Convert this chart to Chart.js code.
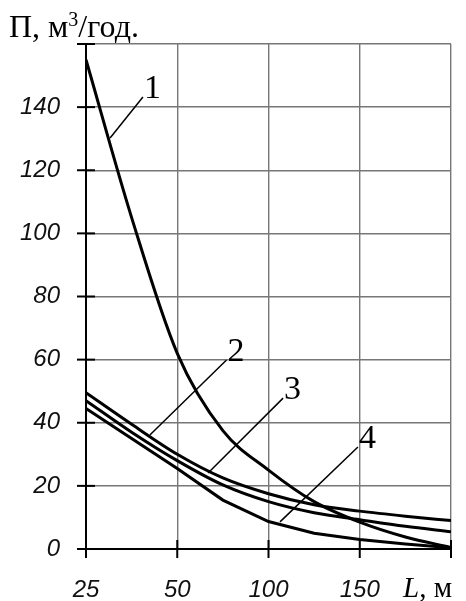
<!DOCTYPE html>
<html>
<head>
<meta charset="utf-8">
<script src="https://cdn.jsdelivr.net/npm/chart.js@4.4.1/dist/chart.umd.min.js"></script>
<style>
  html, body { margin: 0; padding: 0; background: #fff; }
</style>
</head>
<body>
<canvas id="myChart" width="466" height="601"></canvas>
<script>
// длины L, м (точки кривых)
const lengths = [25, 37.5, 50, 75, 100, 125, 150, 175, 200]
// П, м3/год
const curve1 = [155, 105, 62, 37.5, 25, 15, 8.5, 3.8, 0.5]
const curve2 = [49.5, 39.5, 30, 22.5, 17.5, 14, 12, 10.4, 9]
const curve3 = [47, 37, 28, 20.3, 15, 11.5, 9.3, 7.2, 5.5]
const curve4 = [44.5, 35, 25.5, 15.5, 8.7, 5, 3, 1.6, 0.4]

// шкала по оси L неравномерная
const axisL = [25, 50, 100, 150, 200]
const xTickLabels = ['25', '50', '100', '150', '']
const yMax = 160
const yStep = 20

// выноски: номер кривой, точка на кривой и конец выноски (L, П)
const calloutNames = ['1', '2', '3', '4']
const calloutFrom = [[31.6, 130.2], [42.5, 36.1], [66.9, 24.1], [106.3, 8.6]]
const calloutTo = [[40.6, 143.2], [77, 59.9], [108, 47.8], [149, 32.3]]

const toPos = ( L ) => {
  for ( let i = 0; i < axisL.length - 1; i++ ) {
    if ( L <= axisL[i + 1] ) {
      return i + ( L - axisL[i] ) / ( axisL[i + 1] - axisL[i] )
    }
  }
  return axisL.length - 1
}

const makeData = ( values ) => values.map( ( v, i ) => ( { x: toPos( lengths[i] ), y: v } ) )

const lineStyle = {
  borderColor: '#000',
  borderWidth: 3,
  pointRadius: 0,
  fill: false
}

// засечки через оси, выноски и подписи
const decor = {
  id: 'decor',
  afterDraw ( chart ) {
    const { ctx, chartArea } = chart
    const x = chart.scales.x
    const y = chart.scales.y
    ctx.save()
    ctx.strokeStyle = '#000'
    ctx.lineWidth = 2
    y.ticks.forEach( ( t, i ) => {
      const py = y.getPixelForTick( i )
      ctx.beginPath()
      ctx.moveTo( chartArea.left - 9, py )
      ctx.lineTo( chartArea.left + 9, py )
      ctx.stroke()
    } )
    x.ticks.forEach( ( t, i ) => {
      const px = x.getPixelForTick( i )
      ctx.beginPath()
      ctx.moveTo( px, chartArea.bottom - 9 )
      ctx.lineTo( px, chartArea.bottom + 9 )
      ctx.stroke()
    } )

    ctx.lineWidth = 1.5
    ctx.fillStyle = '#000'
    ctx.font = '34px "Liberation Serif"'
    ctx.textAlign = 'left'
    ctx.textBaseline = 'alphabetic'
    calloutNames.forEach( ( name, i ) => {
      const x1 = x.getPixelForValue( toPos( calloutFrom[i][0] ) )
      const y1 = y.getPixelForValue( calloutFrom[i][1] )
      const x2 = x.getPixelForValue( toPos( calloutTo[i][0] ) )
      const y2 = y.getPixelForValue( calloutTo[i][1] )
      ctx.beginPath()
      ctx.moveTo( x1, y1 )
      ctx.lineTo( x2, y2 )
      ctx.stroke()
      ctx.fillText( name, x2 + 1, y2 + 1 )
    } )

    // подпись оси Y
    ctx.font = '32px "Liberation Serif"'
    let tx = 9
    ctx.fillText( 'П, м', tx, 37 )
    tx += ctx.measureText( 'П, м' ).width
    ctx.font = '20px "Liberation Serif"'
    ctx.fillText( '3', tx, 26 )
    tx += ctx.measureText( '3' ).width
    ctx.font = '32px "Liberation Serif"'
    ctx.fillText( '/год.', tx, 37 )

    // подпись оси X
    ctx.font = 'italic 29px "Liberation Serif"'
    let lx = 403
    ctx.fillText( 'L', lx, 597 )
    lx += ctx.measureText( 'L' ).width
    ctx.font = '29px "Liberation Serif"'
    ctx.fillText( ', м', lx, 597 )
    ctx.restore()
  }
}

const tickFont = { family: '"Liberation Sans", Arial', size: 24, style: 'italic' }

const config = {
  type: 'line',
  data: {
    datasets: [
      { label: '1', data: makeData( curve1 ), ...lineStyle, cubicInterpolationMode: 'monotone' },
      { label: '2', data: makeData( curve2 ), ...lineStyle, cubicInterpolationMode: 'monotone' },
      { label: '3', data: makeData( curve3 ), ...lineStyle, cubicInterpolationMode: 'monotone' },
      { label: '4', data: makeData( curve4 ), ...lineStyle, tension: 0 }
    ]
  },
  options: {
    responsive: false,
    animation: false,
    layout: { padding: { top: 44, right: 15, left: 0, bottom: 0 } },
    plugins: {
      legend: { display: false },
      tooltip: { enabled: false }
    },
    scales: {
      x: {
        type: 'linear',
        min: 0,
        max: axisL.length - 1,
        afterFit: ( scale ) => {
          scale.height = 52
          scale.paddingLeft = 0
          scale.paddingRight = 0
        },
        ticks: {
          stepSize: 1,
          padding: 27,
          color: '#111',
          font: tickFont,
          maxRotation: 0,
          callback: ( value ) => xTickLabels[value] ?? ''
        },
        grid: { color: '#777', lineWidth: 1.4, drawTicks: false },
        border: { color: '#000', width: 2 }
      },
      y: {
        min: 0,
        max: yMax,
        afterFit: ( scale ) => { scale.width = 86 },
        ticks: {
          stepSize: yStep,
          padding: 26,
          color: '#111',
          font: tickFont,
          callback: ( value ) => value === yMax ? '' : value
        },
        grid: { color: '#777', lineWidth: 1.4, drawTicks: false },
        border: { color: '#000', width: 2 }
      }
    }
  },
  plugins: [decor]
}

new Chart( document.getElementById( 'myChart' ), config )
</script>
</body>
</html>
